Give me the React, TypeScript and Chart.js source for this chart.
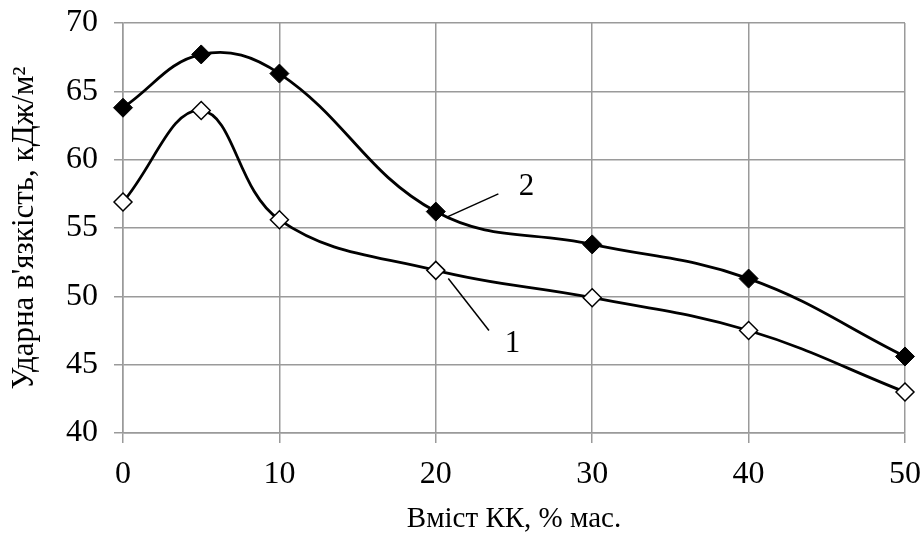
import React, { useEffect, useRef } from "react";
import { Chart, registerables } from "chart.js";

Chart.register(...registerables);

const xValues = [0, 5, 10, 20, 30, 40, 50];
const series1 = [56.9, 63.6, 55.6, 51.9, 49.9, 47.5, 43.0];
const series2 = [63.8, 67.7, 66.3, 56.2, 53.8, 51.3, 45.6];
const xTitle = "Вміст КК, % мас.";
const yTitle = "Ударна в'язкість, кДж/м²";
// callouts: label text, label position, leader line from -> to (data units)
const calloutLabels = ["2", "1"];
const calloutLabelPos = [[25.8, 58.0], [24.9, 46.5]];
const calloutLineFrom = [[24.0, 57.5], [23.4, 47.5]];
const calloutLineTo = [[20.7, 55.8], [20.8, 51.3]];

const FONT = "'Times New Roman', 'Liberation Serif', serif";
const GRID = "#9a9a9a";

const calloutPlugin = {
  id: "callouts",
  afterDatasetsDraw(chart: any) {
    const { ctx, scales } = chart;
    const xs = scales.x;
    const ys = scales.y;
    ctx.save();
    ctx.strokeStyle = "#000";
    ctx.lineWidth = 1.5;
    ctx.fillStyle = "#000";
    ctx.font = `31px ${FONT}`;
    ctx.textAlign = "center";
    ctx.textBaseline = "middle";
    calloutLabels.forEach((t, i) => {
      ctx.beginPath();
      ctx.moveTo(xs.getPixelForValue(calloutLineFrom[i][0]), ys.getPixelForValue(calloutLineFrom[i][1]));
      ctx.lineTo(xs.getPixelForValue(calloutLineTo[i][0]), ys.getPixelForValue(calloutLineTo[i][1]));
      ctx.stroke();
      ctx.fillText(t, xs.getPixelForValue(calloutLabelPos[i][0]), ys.getPixelForValue(calloutLabelPos[i][1]));
    });
    ctx.restore();
  },
};

export default function App() {
  const ref = useRef<HTMLCanvasElement>(null);
  useEffect(() => {
    document.body.style.margin = "0";
    const chart = new Chart(ref.current as HTMLCanvasElement, {
      type: "line",
      data: {
        datasets: [
          {
            label: "1",
            data: xValues.map((x, i) => ({ x, y: series1[i] })),
            borderColor: "#000",
            borderWidth: 2.8,
            tension: 0.4,
            clip: false,
            pointStyle: "rectRot",
            pointRadius: 9,
            pointBackgroundColor: "#fff",
            pointBorderColor: "#000",
            pointBorderWidth: 1.5,
          },
          {
            label: "2",
            data: xValues.map((x, i) => ({ x, y: series2[i] })),
            borderColor: "#000",
            borderWidth: 2.8,
            tension: 0.4,
            clip: false,
            pointStyle: "rectRot",
            pointRadius: 9.5,
            pointBackgroundColor: "#000",
            pointBorderColor: "#000",
            pointBorderWidth: 1,
          },
        ],
      },
      options: {
        animation: false,
        responsive: false,
        maintainAspectRatio: false,
        layout: { padding: { left: 0, right: 18, top: 23, bottom: 0 } },
        plugins: { legend: { display: false }, tooltip: { enabled: false } },
        scales: {
          x: {
            type: "linear",
            min: 0,
            max: 50,
            afterFit: (s: any) => { s.height = 106; s.paddingLeft = 0; s.paddingRight = 0; },
            ticks: { stepSize: 10, color: "#000", font: { family: FONT, size: 32 }, padding: 12, maxRotation: 0 },
            grid: { color: GRID, lineWidth: 1.5, tickLength: 10, tickColor: GRID },
            border: { color: GRID, width: 1.5 },
            title: { display: true, text: xTitle, color: "#000", font: { family: FONT, size: 29 }, padding: { top: 0, bottom: 2 } },
          },
          y: {
            min: 40,
            max: 70,
            afterFit: (s: any) => { s.width = 123; s.paddingTop = 0; s.paddingBottom = 0; },
            ticks: { stepSize: 5, color: "#000", font: { family: FONT, size: 32 }, padding: 16 },
            grid: { color: GRID, lineWidth: 1.5, tickLength: 9, tickColor: GRID },
            border: { color: GRID, width: 1.5 },
            title: { display: true, text: yTitle, color: "#000", font: { family: FONT, size: 31 }, padding: { top: 6, bottom: 0 } },
          },
        },
      },
      plugins: [calloutPlugin],
    } as any);
    return () => chart.destroy();
  }, []);
  return (
    <div style={{ position: "absolute", left: 0, top: 0, width: 923, height: 539, background: "#fff" }}>
      <canvas ref={ref} width={923} height={539} style={{ width: 923, height: 539 }} />
    </div>
  );
}
